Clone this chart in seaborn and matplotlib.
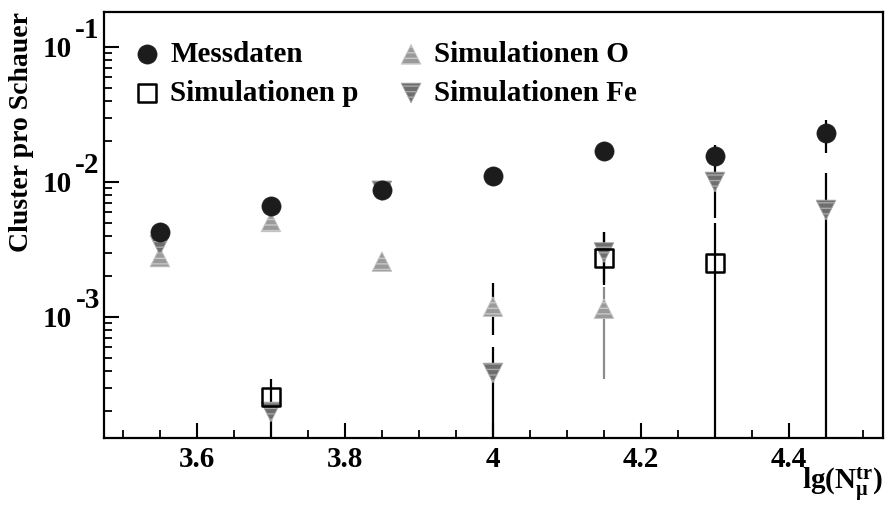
import numpy as np
import pandas as pd
import matplotlib
matplotlib.use("Agg")
import matplotlib.pyplot as plt
import matplotlib.transforms as mtransforms
from matplotlib.ticker import FixedLocator, MultipleLocator, LogLocator, NullFormatter
import seaborn as sns

# ---------------- data ----------------
mess_x = [3.55, 3.70, 3.85, 4.00, 4.15, 4.30, 4.45]
mess_y = [4.27e-3, 6.64e-3, 8.7e-3, 1.11e-2, 1.70e-2, 1.57e-2, 2.31e-2]
mess_lo = [3.9e-3, 6.2e-3, 8.1e-3, 1.06e-2, 1.63e-2, 1.40e-2, 1.64e-2]
mess_hi = [4.6e-3, 7.1e-3, 9.4e-3, 1.16e-2, 1.78e-2, 1.88e-2, 2.87e-2]

p_x = [3.70, 4.15, 4.30]
p_y = [2.55e-4, 2.74e-3, 2.51e-3]
p_lo = [1.9e-4, 1.73e-3, 1e-5]
p_hi = [3.47e-4, 4.27e-3, 4.97e-3]

o_x = [3.55, 3.70, 3.85, 4.00, 4.15]
o_y = [2.78e-3, 5.06e-3, 2.57e-3, 1.19e-3, 1.15e-3]
o_lo = [2.78e-3, 5.06e-3, 2.57e-3, 7.4e-4, 3.5e-4]
o_hi = [2.78e-3, 5.06e-3, 2.57e-3, 1.79e-3, 1.67e-3]

fe_x = [3.55, 3.70, 3.85, 4.00, 4.15, 4.30, 4.45]
fe_y = [3.4e-3, 1.98e-4, 8.6e-3, 3.85e-4, 3.0e-3, 1.0e-2, 6.2e-3]
fe_lo = [3.4e-3, 1e-5, 8.6e-3, 1e-5, 1.79e-3, 5.4e-3, 1e-5]
fe_hi = [3.4e-3, 2.3e-4, 8.6e-3, 6.0e-4, 4.27e-3, 1.38e-2, 1.17e-2]

labels = ["Messdaten", "Simulationen p", "Simulationen O", "Simulationen Fe"]
ytick_vals = [1e-3, 1e-2, 1e-1]
ytick_exp = ["-3", "-2", "-1"]
xtick_vals = [3.6, 3.8, 4.0, 4.2, 4.4]
xtick_labels = ["3.6", "3.8", "4", "4.2", "4.4"]

# ---------------- style ----------------
sns.set_theme(style="ticks")
plt.rcParams["font.family"] = ["Liberation Serif", "DejaVu Serif"]
plt.rcParams["font.weight"] = "bold"
plt.rcParams["text.color"] = "black"
plt.rcParams["axes.labelcolor"] = "black"
plt.rcParams["xtick.color"] = "black"
plt.rcParams["ytick.color"] = "black"
plt.rcParams["mathtext.fontset"] = "custom"
plt.rcParams["mathtext.rm"] = "Liberation Serif:bold"
plt.rcParams["mathtext.it"] = "Liberation Serif:bold"
plt.rcParams["mathtext.bf"] = "Liberation Serif:bold"
plt.rcParams["hatch.linewidth"] = 1.0

fig = plt.figure(figsize=(8.85, 5.19), dpi=100)
ax = fig.add_axes([104 / 885, 1 - 438 / 519, 779 / 885, 426 / 519])
ax.set_yscale("log")

FS = 21

def bars(x, y, lo, hi, color, lw=1.6):
    y = np.asarray(y); lo = np.asarray(lo); hi = np.asarray(hi)
    ax.errorbar(x, y, yerr=[y - lo, hi - y], fmt="none", ecolor=color,
                elinewidth=lw, capsize=0, zorder=1)

bars(o_x, o_y, o_lo, o_hi, ["black", "black", "black", "black", "#8c8c8c"])
bars(fe_x, fe_y, fe_lo, fe_hi, "black")
bars(p_x, p_y, p_lo, p_hi, "black")
bars(mess_x, mess_y, mess_lo, mess_hi, "black")

df_o = pd.DataFrame({"x": o_x, "y": o_y})
df_fe = pd.DataFrame({"x": fe_x, "y": fe_y})
df_p = pd.DataFrame({"x": p_x, "y": p_y})
df_m = pd.DataFrame({"x": mess_x, "y": mess_y})

sns.scatterplot(data=df_o, x="x", y="y", ax=ax, marker="^", s=200,
                facecolor="#9a9a9a", edgecolor="#c8c8c8", linewidth=0.6,
                hatch="---", label=labels[2], zorder=3)
sns.scatterplot(data=df_fe, x="x", y="y", ax=ax, marker="v", s=200,
                facecolor="#6e6e6e", edgecolor="#a8a8a8", linewidth=0.6,
                hatch="---", label=labels[3], zorder=4)
sns.scatterplot(data=df_p, x="x", y="y", ax=ax, marker="s", s=170,
                facecolor="none", edgecolor="black", linewidth=1.8,
                label=labels[1], zorder=5)
sns.scatterplot(data=df_m, x="x", y="y", ax=ax, marker="o", s=190,
                facecolor="#1c1c1c", edgecolor="#1c1c1c", linewidth=0.5,
                label=labels[0], zorder=6)

# ---------------- axes ----------------
ax.set_xlim(3.4745, 4.527)
ax.set_ylim(1.27e-4, 0.1815)

ax.xaxis.set_major_locator(FixedLocator(xtick_vals))
ax.set_xticklabels(xtick_labels, fontsize=FS, fontweight="bold")
ax.xaxis.set_minor_locator(MultipleLocator(0.05))

ax.yaxis.set_major_locator(FixedLocator(ytick_vals))
ax.set_yticklabels(["10"] * len(ytick_vals), fontsize=FS, fontweight="bold")
ax.yaxis.set_minor_locator(LogLocator(base=10, subs=np.arange(2, 10)))
ax.yaxis.set_minor_formatter(NullFormatter())

ax.tick_params(axis="both", which="major", direction="in", length=11, width=1.5,
               top=False, right=False, colors="black")
ax.tick_params(axis="both", which="minor", direction="in", length=5.5, width=1.3,
               top=False, right=False, colors="black")
ax.tick_params(axis="x", which="major", pad=6)
ax.tick_params(axis="y", which="major", pad=23)

for s in ax.spines.values():
    s.set_linewidth(1.6)
    s.set_color("black")

# exponents of the y tick labels (ROOT style)
trans = mtransforms.blended_transform_factory(ax.transAxes, ax.transData)
for v, e in zip(ytick_vals, ytick_exp):
    ax.annotate(e, xy=(0, v), xycoords=trans, xytext=(-3, 12),
                textcoords="offset points", ha="right", va="center",
                fontsize=FS, fontweight="bold", color="black")

ax.set_ylabel("Cluster pro Schauer", fontsize=20, fontweight="bold",
              loc="top", labelpad=6, color="black")
ax.set_xlabel(r"lg(N$_{\mu}^{tr}$)", fontsize=FS, fontweight="bold",
              loc="right", labelpad=-6, color="black")

# ---------------- legend ----------------
h, l = ax.get_legend_handles_labels()
order = [l.index(t) for t in labels]
leg = ax.legend([h[i] for i in order], [l[i] for i in order], ncol=2,
                loc="upper left", bbox_to_anchor=(0.040, 0.932), frameon=False,
                prop={"family": "Liberation Serif", "weight": "bold", "size": FS},
                handlelength=0.8, handletextpad=0.4, columnspacing=1.4,
                labelspacing=0.4, borderpad=0.0, borderaxespad=0.0)
for t in leg.get_texts():
    t.set_color("black")

fig.savefig("out.png", dpi=100, facecolor="white")
